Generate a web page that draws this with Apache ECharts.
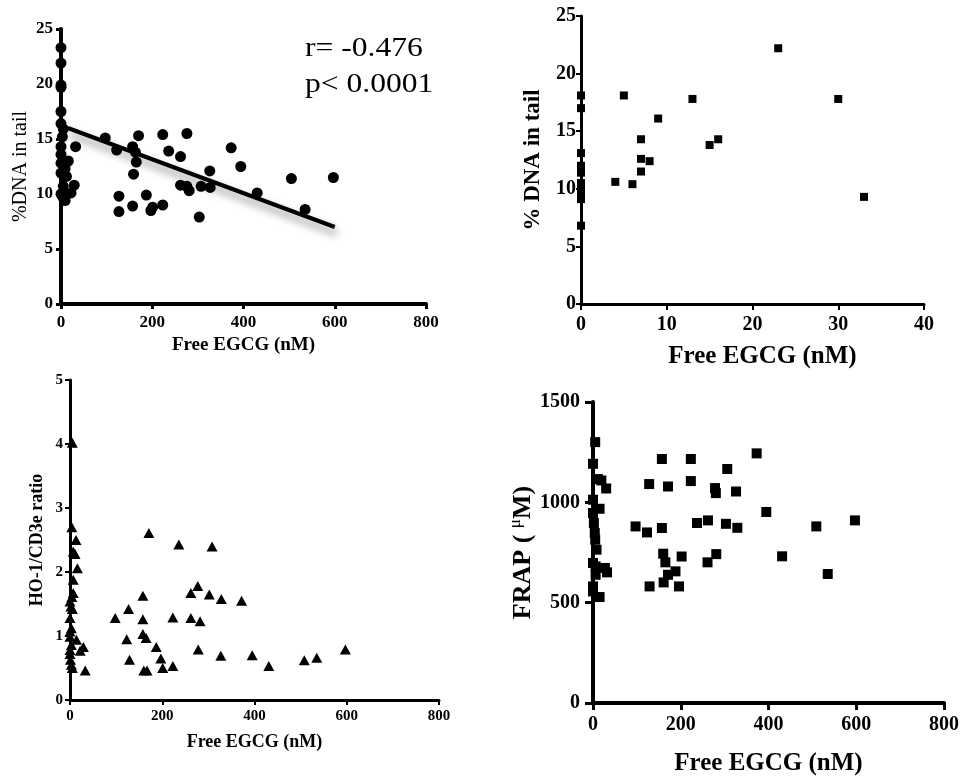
<!DOCTYPE html>
<html>
<head>
<meta charset="utf-8">
<script src="https://cdn.jsdelivr.net/npm/echarts@6.0.0/dist/echarts.min.js"></script>
<style>
  html, body { margin: 0; padding: 0; background: #fff; }
  #chart { width: 964px; height: 779px; }
</style>
</head>
<body>
<div id="chart"></div>
<script>
// Comet assay (% DNA in tail) vs free EGCG, all samples
const cometAllPoints = [
  [0, 23.3], [0, 21.9], [0, 19.9], [0, 19.7], [0, 17.5], [0, 16.4], [5, 15.9], [3, 15.2],
  [0, 14.3], [32, 14.3], [0, 13.6], [16, 13.0], [9, 12.3], [12, 11.6], [29, 10.8], [22, 10.1],
  [9, 9.4], [0, 10.0], [0, 11.9], [5, 10.7], [0, 12.8], [4, 9.7],
  [97, 15.1], [122, 14.0], [127, 9.8], [127, 8.4], [157, 14.3], [163, 13.8], [165, 12.9],
  [159, 11.8], [170, 15.3], [157, 8.9], [187, 9.9], [197, 8.5], [201, 8.8], [223, 9.0],
  [223, 15.4], [236, 13.9], [262, 13.4], [276, 15.5], [262, 10.8], [281, 10.3], [276, 10.7],
  [303, 7.9], [307, 10.7], [326, 12.1], [327, 10.6], [373, 14.2], [394, 12.5], [430, 10.1],
  [505, 11.4], [597, 11.5], [535, 8.6]
];
// Linear regression through the comet data
const fitLineX = [15, 600];
const fitLineY = [16.0, 7.0];
const statLines = ['r= -0.476', 'p< 0.0001'];

// Comet assay vs free EGCG, low-concentration subset (0-40 nM)
const cometLowPoints = [
  [0, 18.1], [0, 17.0], [0, 13.1], [0, 12.0], [0, 11.6], [0, 11.4], [0, 10.5], [0, 10.0],
  [0, 9.6], [0, 9.1], [0, 6.8], [5, 18.1], [4, 10.6], [6, 10.4], [7, 14.3], [7, 12.6],
  [7, 11.5], [8, 12.4], [9, 16.1], [13, 17.8], [15, 13.8], [16, 14.3], [23, 22.2],
  [30, 17.8], [33, 9.3]
];

// HO-1/CD3e expression ratio vs free EGCG
const hoRatioPoints = [
  [5, 4.02], [4, 2.70], [13, 2.50], [7, 2.32], [11, 2.28], [16, 2.06], [7, 1.88], [7, 1.67],
  [4, 1.61], [0, 1.54], [2, 1.46], [5, 1.42], [0, 1.28], [3, 1.12], [0, 1.07], [14, 0.94],
  [3, 0.86], [29, 0.83], [22, 0.77], [0, 0.72], [1, 0.63], [3, 0.55], [5, 0.50], [33, 0.46],
  [0, 0.78], [0, 0.99],
  [98, 1.28], [123, 0.95], [127, 1.42], [129, 0.63], [158, 1.63], [158, 1.26], [158, 1.03],
  [165, 0.97], [160, 0.46], [167, 0.46], [171, 2.61], [187, 0.83], [197, 0.65], [201, 0.50],
  [223, 1.29], [223, 0.53], [236, 2.43], [262, 1.67], [277, 1.78], [262, 1.28], [282, 1.23],
  [278, 0.79], [302, 1.65], [308, 2.40], [328, 1.58], [327, 0.69], [372, 1.55], [395, 0.70],
  [431, 0.53], [508, 0.62], [535, 0.66], [597, 0.79]
];

// Plasma FRAP (µM) vs free EGCG
const frapPoints = [
  [5, 1300], [0, 1192], [11, 1116], [19, 1109], [30, 1069], [0, 1013], [15, 968], [0, 947],
  [2, 897], [4, 847], [5, 814], [8, 764], [0, 698], [6, 681], [27, 673], [32, 651], [6, 639],
  [0, 581], [15, 528], [0, 556],
  [97, 880], [123, 850], [128, 1091], [129, 581], [157, 1216], [157, 872], [160, 744],
  [165, 701], [171, 1079], [161, 601], [171, 639], [188, 656], [196, 581], [202, 730],
  [223, 1216], [223, 1106], [237, 897], [262, 910], [261, 701], [278, 1071], [280, 1046],
  [281, 742], [303, 893], [306, 1166], [326, 1054], [329, 873], [373, 1244], [395, 952],
  [431, 731], [509, 880], [535, 643], [597, 910]
];

const xName = 'Free EGCG (nM)';
const FONT = '"Liberation Serif", "Times New Roman", Times, serif';

function axis(gridIndex, min, max, interval, o) {
  return {
    type: 'value',
    gridIndex: gridIndex,
    min: min,
    max: max,
    interval: interval,
    name: o.name,
    nameLocation: 'middle',
    nameGap: o.nameGap,
    nameTextStyle: Object.assign({
      fontFamily: FONT,
      fontWeight: o.nameWeight || 'bold',
      fontSize: o.nameSize,
      color: '#000'
    }, o.nameExtra || {}),
    axisLine: { show: true, onZero: false, lineStyle: { color: '#000', width: o.lineWidth } },
    axisTick: { show: true, inside: false, length: o.tickLen, lineStyle: { color: '#000', width: o.lineWidth - 1 } },
    axisLabel: {
      fontFamily: FONT,
      fontWeight: 'bold',
      fontSize: o.labelSize,
      color: '#000',
      margin: o.labelMargin,
      formatter: (v) => String(v)
    },
    splitLine: { show: false }
  };
}

const markerStyle = { color: '#000', opacity: 1 };

const chart = echarts.init(document.getElementById('chart'), null, { renderer: 'canvas' });

chart.setOption({
  backgroundColor: '#fff',
  animation: false,
  grid: [
    { left: 61, top: 29, width: 365, height: 275 },
    { left: 581, top: 16, width: 343, height: 288 },
    { left: 70, top: 380, width: 369, height: 320 },
    { left: 593, top: 402, width: 351, height: 301 }
  ],
  xAxis: [
    axis(0, 0, 800, 200, { name: xName, nameGap: 32, nameSize: 19, lineWidth: 4, tickLen: 5, labelSize: 17, labelMargin: 10 }),
    axis(1, 0, 40, 10, { name: xName, nameGap: 40, nameSize: 25, lineWidth: 3, tickLen: 6, labelSize: 20, labelMargin: 11,
      nameExtra: { padding: [0, 0, 0, 20] } }),
    axis(2, 0, 800, 200, { name: xName, nameGap: 33, nameSize: 18, lineWidth: 3, tickLen: 5, labelSize: 15, labelMargin: 9 }),
    axis(3, 0, 800, 200, { name: xName, nameGap: 48, nameSize: 25, lineWidth: 4, tickLen: 7, labelSize: 20, labelMargin: 12 })
  ],
  yAxis: [
    axis(0, 0, 25, 5, { name: '%DNA in tail', nameGap: 30, nameSize: 20, nameWeight: 'normal', lineWidth: 4, tickLen: 5, labelSize: 17, labelMargin: 8 }),
    axis(1, 0, 25, 5, { name: '% DNA in tail', nameGap: 36, nameSize: 23, lineWidth: 3, tickLen: 5, labelSize: 20, labelMargin: 5 }),
    axis(2, 0, 5, 1, { name: 'HO-1/CD3e ratio', nameGap: 24, nameSize: 18, lineWidth: 3, tickLen: 5, labelSize: 15, labelMargin: 7 }),
    axis(3, 0, 1500, 500, { name: '{a|FRAP ( }{u|μ}{a|M)}', nameGap: 60, nameSize: 26, lineWidth: 4, tickLen: 8, labelSize: 20, labelMargin: 13,
      nameExtra: {
        rich: {
          a: { fontFamily: FONT, fontWeight: 'bold', fontSize: 26, lineHeight: 26, padding: [7, 0, 0, 0], color: '#000' },
          u: { fontFamily: FONT, fontWeight: 'normal', fontSize: 17, lineHeight: 17, verticalAlign: 'top', color: '#000' }
        }
      } })
  ],
  series: [
    {
      type: 'scatter', xAxisIndex: 0, yAxisIndex: 0, data: cometAllPoints,
      symbol: 'circle', symbolSize: 11, itemStyle: markerStyle, z: 3
    },
    {
      type: 'line', xAxisIndex: 0, yAxisIndex: 0,
      data: fitLineX.map((x, i) => [x, fitLineY[i]]),
      showSymbol: false, symbol: 'none', z: 4,
      lineStyle: {
        color: '#000', width: 4,
        shadowColor: 'rgba(0,0,0,0.45)', shadowBlur: 8, shadowOffsetX: 2, shadowOffsetY: 6
      }
    },
    {
      type: 'scatter', xAxisIndex: 1, yAxisIndex: 1, data: cometLowPoints,
      symbol: 'rect', symbolSize: 8, itemStyle: markerStyle, z: 3
    },
    {
      type: 'scatter', xAxisIndex: 2, yAxisIndex: 2, data: hoRatioPoints,
      symbol: 'triangle', symbolSize: [11, 10], itemStyle: markerStyle, z: 3
    },
    {
      type: 'scatter', xAxisIndex: 3, yAxisIndex: 3, data: frapPoints,
      symbol: 'rect', symbolSize: 10, itemStyle: markerStyle, z: 3
    }
  ],
  graphic: statLines.map((t, i) => ({
    type: 'text',
    x: 305,
    y: 35 + i * 36,
    scaleX: 1.17,
    z: 10,
    style: {
      x: 0,
      y: 0,
      text: t,
      fontFamily: FONT,
      fontSize: 27,
      align: 'left',
      verticalAlign: 'top',
      fill: '#000',
      shadowColor: 'rgba(0,0,0,0.35)',
      shadowBlur: 6,
      shadowOffsetX: 2,
      shadowOffsetY: 3
    }
  }))
});
</script>
</body>
</html>
